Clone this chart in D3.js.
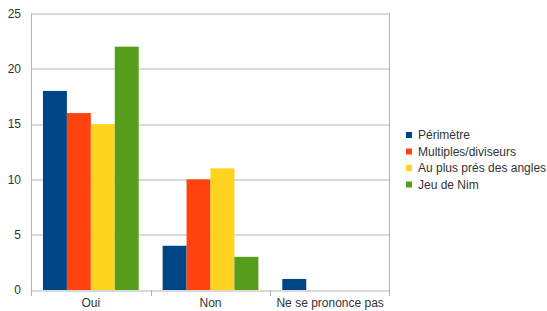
<!DOCTYPE html>
<head>
<meta charset="utf-8">
<title>Réponses</title>
<script src="https://d3js.org/d3.v7.min.js"></script>
<style>
body { margin: 0; background: #fff; }
text { font-family: "Liberation Sans", Arial, sans-serif; }
</style>
</head>
<body>
<div id="my_dataviz"></div>
<script>

// data
const categories = ["Oui", "Non", "Ne se prononce pas"];
const seriesNames = ["Périmètre", "Multiples/diviseurs", "Au plus prés des angles", "Jeu de Nim"];
const perimetre = [18, 4, 1];
const multiples = [16, 10, 0];
const angles = [15, 11, 0];
const jeuDeNim = [22, 3, 0];
const yTicks = [0, 5, 10, 15, 20, 25];

const colours = ["#004586", "#ff420e", "#ffd320", "#579d1c"];
const seriesValues = [perimetre, multiples, angles, jeuDeNim];

var margin = {top: 13.5, right: 157, bottom: 21, left: 31},
    width = 547 - margin.left - margin.right,
    height = 311 - margin.top - margin.bottom;

var svg = d3.select("#my_dataviz")
  .append("svg")
    .attr("width", 547)
    .attr("height", 311)
  .append("g")
    .attr("transform", "translate(" + margin.left + "," + margin.top + ")");

var x = d3.scaleBand()
  .range([0, width])
  .domain(categories)
  .paddingInner(0)
  .paddingOuter(0);

// bars take 4/5 of the category, half a bar of space each side
var xSub = d3.scaleBand()
  .domain(seriesNames)
  .range([0, x.bandwidth()])
  .paddingInner(0)
  .paddingOuter(0.5);

var y = d3.scaleLinear()
  .domain([0, 25])
  .range([height, 0]);

// grid lines
svg.selectAll("line.grid")
  .data(yTicks)
  .enter()
  .append("line")
    .attr("class", "grid")
    .attr("x1", 0)
    .attr("x2", width)
    .attr("y1", function(d) { return Math.round(y(d)) + 0.5; })
    .attr("y2", function(d) { return Math.round(y(d)) + 0.5; })
    .attr("stroke", "#b3b3b3");

// y labels
svg.selectAll("text.ylab")
  .data(yTicks)
  .enter()
  .append("text")
    .attr("x", -10)
    .attr("y", function(d) { return y(d); })
    .attr("dy", "0.35em")
    .attr("text-anchor", "end")
    .attr("font-size", 12)
    .attr("fill", "#333")
    .text(function(d) { return d; });

// plot frame sides
svg.append("line")
  .attr("x1", 0.5).attr("x2", 0.5)
  .attr("y1", 0).attr("y2", height + 6)
  .attr("stroke", "#b3b3b3");
svg.append("line")
  .attr("x1", width - 0.5).attr("x2", width - 0.5)
  .attr("y1", 0).attr("y2", height + 6)
  .attr("stroke", "#b3b3b3");

// category boundary ticks
svg.selectAll("line.xtick")
  .data(categories.slice(1))
  .enter()
  .append("line")
    .attr("x1", function(d) { return Math.round(x(d)) + 0.5; })
    .attr("x2", function(d) { return Math.round(x(d)) + 0.5; })
    .attr("y1", height)
    .attr("y2", height + 6)
    .attr("stroke", "#b3b3b3");

// bars
var groups = svg.selectAll("g.cat")
  .data(categories)
  .enter()
  .append("g")
    .attr("transform", function(d) { return "translate(" + x(d) + ",0)"; });

groups.selectAll("rect")
  .data(function(d, i) {
    return seriesNames.map(function(s, j) { return {s: s, v: seriesValues[j][i], c: colours[j]}; });
  })
  .enter()
  .append("rect")
    .attr("x", function(d) { return xSub(d.s); })
    .attr("width", xSub.bandwidth())
    .attr("y", function(d) { return y(d.v); })
    .attr("height", function(d) { return height - y(d.v); })
    .attr("fill", function(d) { return d.c; });

// category labels
svg.selectAll("text.xlab")
  .data(categories)
  .enter()
  .append("text")
    .attr("x", function(d) { return x(d) + x.bandwidth() / 2; })
    .attr("y", height + 17)
    .attr("text-anchor", "middle")
    .attr("font-size", 12)
    .attr("fill", "#333")
    .text(function(d) { return d; });

// legend
var legend = svg.append("g")
  .attr("transform", "translate(" + (406 - margin.left) + "," + (135 - margin.top) + ")");

var rows = legend.selectAll("g")
  .data(seriesNames)
  .enter()
  .append("g")
    .attr("transform", function(d, i) { return "translate(0," + (i * 16.5) + ")"; });

rows.append("rect")
  .attr("x", 0)
  .attr("y", -3)
  .attr("width", 6)
  .attr("height", 6)
  .attr("fill", function(d, i) { return colours[i]; });

rows.append("text")
  .attr("x", 12)
  .attr("y", 0)
  .attr("dy", "0.35em")
  .attr("font-size", 12)
  .attr("fill", "#333")
  .text(function(d) { return d; });

</script>
</body>
</html>
